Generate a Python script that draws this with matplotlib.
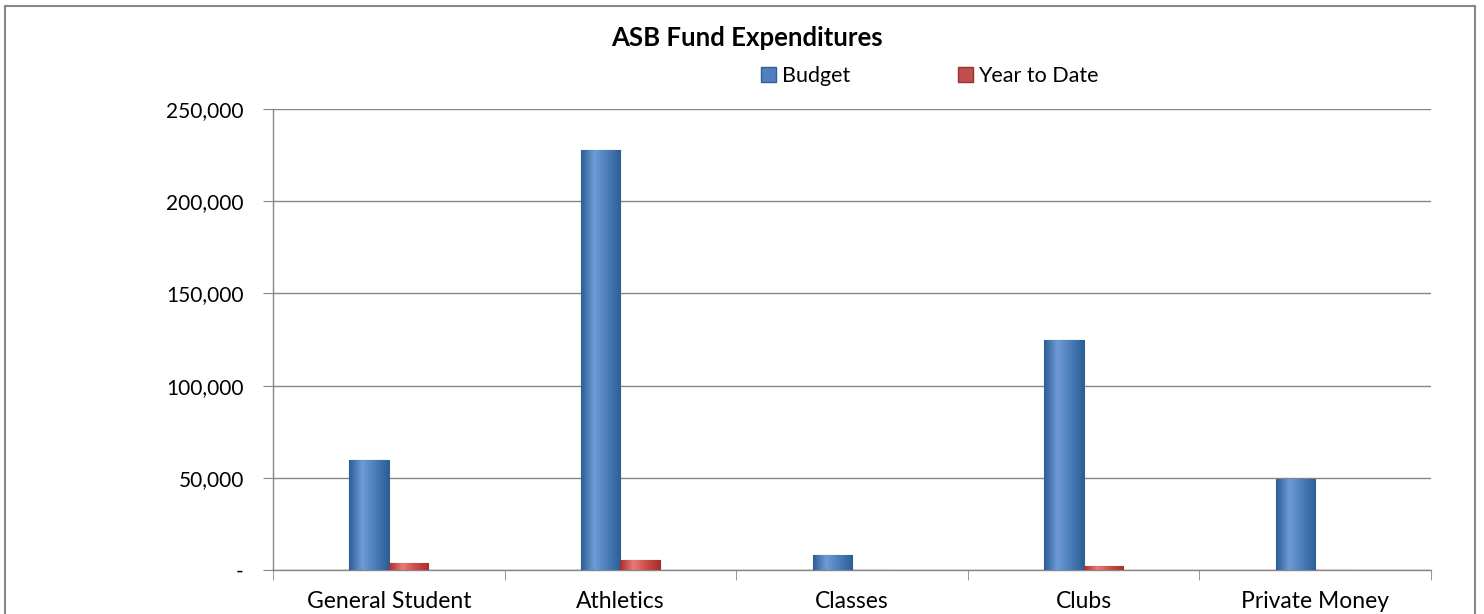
import matplotlib.pyplot as plt
import matplotlib.patches as mpatches
from matplotlib.ticker import FuncFormatter
import numpy as np

# Datos
categories = ['General Student', 'Athletics', 'Classes', 'Clubs', 'Private Money']
budget = [59500, 227500, 8000, 125000, 49300]
year_to_date = [4000, 5200, 0, 2000, 0]

plt.rcParams['font.family'] = ['Lato', 'DejaVu Sans']

fig = plt.figure(figsize=(14.84, 6.14), dpi=100)
ax = fig.add_axes([273 / 1484, 1 - 570 / 614, (1431 - 273) / 1484, (570 - 109) / 614])

x = np.arange(len(categories))
w = 0.17


def gradient_bars(bars, dark, mid, light):
    # Relleno degradado horizontal dentro de cada barra
    cmap = plt.matplotlib.colors.LinearSegmentedColormap.from_list('g', [dark, light, mid, dark])
    grad = np.linspace(0, 1, 64).reshape(1, -1)
    for b in bars:
        h = b.get_height()
        if h <= 0:
            continue
        x0 = b.get_x()
        im = ax.imshow(grad, cmap=cmap, aspect='auto', zorder=3,
                       extent=[x0, x0 + b.get_width(), 0, h])
        im.set_clip_path(b)


b1 = ax.bar(x - w / 2, budget, w, color='#4F81BD', edgecolor='#2F5F98', linewidth=0.8, zorder=3, label='Budget')
b2 = ax.bar(x + w / 2, year_to_date, w, color='#C0504D', edgecolor='#9A2F2C', linewidth=0.8, zorder=3, label='Year to Date')
gradient_bars(b1, '#2D5E96', '#4A7DBA', '#6E9BD6')
gradient_bars(b2, '#A8302D', '#CC4B48', '#E87A77')

ax.set_xlim(-0.5, len(categories) - 0.5)
ax.set_ylim(0, 250000)
ax.set_yticks(np.arange(0, 250001, 50000))
ax.yaxis.set_major_formatter(FuncFormatter(lambda v, p: '-' if v == 0 else f'{int(v):,}'))
ax.set_xticks(x)
ax.set_xticklabels(categories)
ax.set_xticks(np.arange(-0.5, len(categories)), minor=True)
ax.tick_params(axis='x', which='major', length=0, labelsize=16.5, pad=15)
ax.tick_params(axis='x', which='minor', length=7, color='#868686', direction='out')
ax.tick_params(axis='y', length=7, color='#868686', labelsize=15, pad=14)
ax.grid(axis='y', color='#868686', linewidth=1, zorder=0)
for s in ['top', 'right']:
    ax.spines[s].set_visible(False)
for s in ['left', 'bottom']:
    ax.spines[s].set_color('#868686')
    ax.spines[s].set_linewidth(1)
ax.set_axisbelow(True)

fig.text(747 / 1484, 1 - 38 / 614, 'ASB Fund Expenditures', ha='center', va='center',
         fontsize=18.5, fontweight='bold')

h1 = mpatches.Patch(facecolor='#4F81BD', edgecolor='#2F5F98')
h2 = mpatches.Patch(facecolor='#C0504D', edgecolor='#9A2F2C')
fig.legend([h1, h2], ['Budget', 'Year to Date'], loc='center', ncol=2,
           bbox_to_anchor=(930 / 1484, 1 - 76 / 614), frameon=False, fontsize=15.5,
           handlelength=0.7, handleheight=0.7, handletextpad=0.25, columnspacing=5.0)

# Borde del area del grafico
fig.add_artist(mpatches.Rectangle((5 / 1484, -0.05), 1470 / 1484, 1.05 - 6 / 614,
                                  transform=fig.transFigure, fill=False,
                                  edgecolor='#868686', linewidth=1.5))

fig.savefig('out.png', dpi=100)
